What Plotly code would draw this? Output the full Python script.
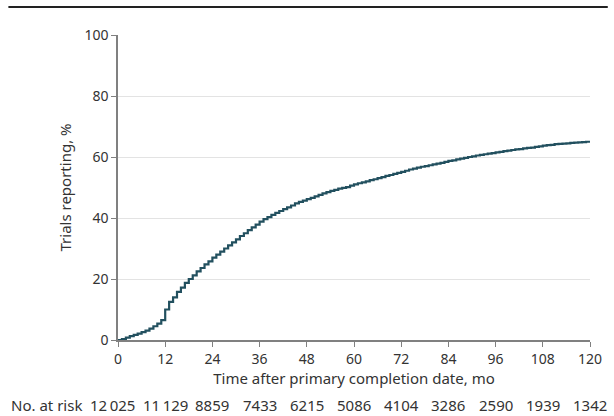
import plotly.graph_objects as go

months = list(range(0, 121))
pct_reporting = [
    0.0, 0.3, 0.8, 1.3, 1.7, 2.1, 2.6, 3.1, 3.7, 4.5,
    5.4, 6.5, 10.0, 12.5, 14.0, 15.8, 17.2, 18.7, 20.0, 21.2,
    22.5, 23.6, 24.8, 25.8, 27.0, 28.0, 29.0, 30.0, 31.0, 32.0,
    33.0, 34.1, 35.0, 36.0, 36.9, 37.8, 38.8, 39.6, 40.3, 41.0,
    41.7, 42.3, 42.9, 43.5, 44.1, 44.8, 45.3, 45.7, 46.2, 46.6,
    47.1, 47.6, 48.1, 48.5, 48.9, 49.2, 49.6, 49.9, 50.1, 50.6,
    51.0, 51.4, 51.7, 52.0, 52.4, 52.7, 53.1, 53.4, 53.8, 54.1,
    54.5, 54.8, 55.1, 55.5, 55.9, 56.2, 56.5, 56.8, 57.0, 57.3,
    57.6, 57.8, 58.1, 58.4, 58.7, 58.9, 59.2, 59.5, 59.7, 60.0,
    60.2, 60.5, 60.7, 60.9, 61.1, 61.3, 61.5, 61.7, 61.9, 62.1,
    62.3, 62.5, 62.6, 62.8, 63.0, 63.1, 63.3, 63.5, 63.7, 63.9,
    64.0, 64.2, 64.3, 64.4, 64.5, 64.6, 64.7, 64.8, 64.9, 65.0,
    65.1,
]

x_ticks = [0, 12, 24, 36, 48, 60, 72, 84, 96, 108, 120]
y_ticks = [0, 20, 40, 60, 80, 100]
at_risk_times = [0, 12, 24, 36, 48, 60, 72, 84, 96, 108, 120]
at_risk_labels = ["12\u2009025", "11\u2009129", "8859", "7433", "6215", "5086",
                  "4104", "3286", "2590", "1939", "1342"]

FONT = "Noto Sans, Open Sans, sans-serif"
FS_TICK = 14
FS = 15
TXT = "#333333"
W, H = 614, 416
L, R, T, B = 118, 18, 35, 76
pw = W - L - R
ph = H - T - B

fig = go.Figure()
fig.add_trace(go.Scatter(
    x=months, y=pct_reporting, mode="lines", line_shape="hv",
    line=dict(color="#22505f", width=2.2), showlegend=False,
    hoverinfo="skip", cliponaxis=False,
))

fig.update_layout(
    width=W, height=H,
    margin=dict(l=L, r=R, t=T, b=B),
    paper_bgcolor="white", plot_bgcolor="white",
    font=dict(family=FONT, size=FS, color=TXT),
    xaxis=dict(
        range=[0, 120], tickvals=x_ticks, ticks="outside", ticklen=5,
        tickcolor="#808080", tickwidth=1.3, showline=True, linecolor="#808080",
        linewidth=1.5, showgrid=False, zeroline=False,
        tickfont=dict(size=FS_TICK, color=TXT),
        title=dict(text="Time after primary completion date, mo",
                   font=dict(size=FS, color=TXT), standoff=5),
    ),
    yaxis=dict(
        range=[0, 100], tickvals=y_ticks, ticks="outside", ticklen=5,
        tickcolor="#808080", tickwidth=1.3, showline=True, linecolor="#808080",
        linewidth=1.5, showgrid=True, gridcolor="#e3e3e3", gridwidth=1,
        zeroline=False, tickfont=dict(size=FS_TICK, color=TXT),
        title=dict(text="Trials reporting, %", font=dict(size=FS, color=TXT),
                   standoff=9),
    ),
)

# top rule
fig.add_shape(type="line", xref="paper", yref="paper",
              x0=(7 - L) / pw, x1=(W - L) / pw,
              y0=(H - B - 7) / ph, y1=(H - B - 7) / ph,
              line=dict(color="#222222", width=2))

risk_y = -(405 - (H - B)) / ph
fig.add_annotation(text="No. at risk", xref="paper", yref="paper",
                   x=-(L - 8) / pw, y=risk_y, xanchor="left", yanchor="middle",
                   showarrow=False, font=dict(size=FS, color=TXT))
for t, lab in zip(at_risk_times, at_risk_labels):
    fig.add_annotation(text=lab, xref="x", yref="paper", x=t, y=risk_y,
                       xanchor="center", yanchor="middle", showarrow=False,
                       xshift=-6 if t == 0 else 0,
                       font=dict(size=FS, color=TXT))

fig.write_html("out.html", post_script="document.body.style.margin='0';",
               config={"displayModeBar": False})
